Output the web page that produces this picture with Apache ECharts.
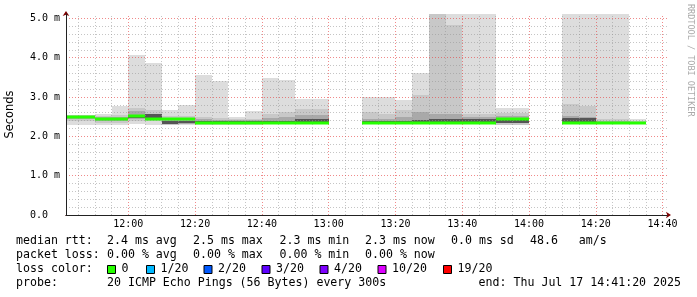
<!DOCTYPE html>
<html><head><meta charset="utf-8">
<script src="https://cdn.jsdelivr.net/npm/echarts@6/dist/echarts.min.js"></script>
<style>html,body{margin:0;padding:0;background:#fff}#c{width:697px;height:297px}</style>
</head><body><div id="c"></div>
<script>
// time in minutes since midnight
const startMin = 701 + 20/60;   // 11:41:20
const endMin   = 881 + 20/60;   // 14:41:20
const stepMin  = 5;
// end time of each 5-minute interval
const intervalEnds = [705,710,715,720,725,730,735,740,745,750,755,760,765,770,775,780,785,790,
  795,800,805,810,815,820,825,830,835,840,845,850,855,860,865,870,875];
// smoke bands (ms)
const lo   = [2.29,2.29,2.28,2.28,2.31,2.30,2.28,2.30,2.30,2.30,2.30,2.30,2.31,2.31,2.31,2.31,null,null,2.33,2.33,2.33,2.33,2.33,2.33,2.32,2.32,2.28,2.28,null,null,2.33,2.33,2.31,2.31,2.31];
const hi   = [2.54,2.54,2.58,2.77,4.06,3.86,2.66,2.79,3.55,3.40,2.48,2.64,3.49,3.43,2.96,2.96,null,null,2.99,2.99,2.92,3.60,5.60,5.60,5.60,5.60,2.73,2.73,null,null,5.60,5.60,5.60,5.60,2.45];
const b2lo = [2.40,2.40,2.33,2.33,2.40,2.38,2.30,2.31,2.32,2.32,2.31,2.31,2.32,2.32,2.32,2.32,null,null,2.34,2.34,2.34,2.34,2.34,2.34,2.33,2.33,2.30,2.30,null,null,2.34,2.34,2.32,2.32,2.32];
const b2hi = [2.53,2.53,2.52,2.55,2.72,2.68,2.52,2.52,2.48,2.47,2.45,2.45,2.56,2.62,2.70,2.70,null,null,2.61,2.56,2.66,3.05,5.60,4.82,2.56,2.56,2.60,2.60,null,null,2.82,2.77,2.44,2.44,2.40];
const b3lo = [2.44,2.44,2.40,2.40,2.45,2.43,2.31,2.32,2.33,2.33,2.32,2.32,2.33,2.33,2.34,2.34,null,null,2.35,2.35,2.35,2.35,2.35,2.35,2.34,2.34,2.33,2.33,null,null,2.35,2.35,2.33,2.33,2.32];
const b3hi = [2.51,2.51,2.49,2.50,2.65,2.58,2.46,2.47,2.44,2.42,2.42,2.41,2.46,2.48,2.55,2.55,null,null,2.45,2.45,2.50,2.62,2.56,2.56,2.50,2.50,2.52,2.52,null,null,2.52,2.50,2.40,2.40,2.37];
const b4lo = [2.46,2.46,2.43,2.43,2.47,2.46,2.31,2.33,2.34,2.34,2.33,2.33,2.34,2.34,2.36,2.36,null,null,2.35,2.35,2.36,2.36,2.37,2.37,2.35,2.35,2.33,2.33,null,null,2.36,2.36,2.33,2.33,2.33];
const b4hi = [2.49,2.49,2.47,2.47,2.55,2.56,2.40,2.39,2.38,2.38,2.39,2.38,2.38,2.38,2.44,2.44,null,null,2.38,2.38,2.40,2.42,2.45,2.45,2.44,2.44,2.46,2.46,null,null,2.46,2.46,2.37,2.37,2.36];
const median = [2.48,2.48,2.45,2.45,2.51,2.44,2.44,2.43,2.34,2.34,2.33,2.33,2.34,2.34,2.34,2.34,null,null,2.35,2.35,2.35,2.35,2.35,2.35,2.34,2.34,2.43,2.43,null,null,2.34,2.34,2.34,2.34,2.33];

// grid / ticks
const majorX = [720,740,760,780,800,820,840,860,880];
const minorX = [705,710,715,725,730,735,745,750,755,765,770,775,785,790,795,805,810,815,825,830,835,845,850,855,865,870,875];
const majorY = [1,2,3,4,5];
const minorY = [0.2,0.4,0.6,0.8,1.2,1.4,1.6,1.8,2.2,2.4,2.6,2.8,3.2,3.4,3.6,3.8,4.2,4.4,4.6,4.8];
const yLabels = [0,1,2,3,4,5];

// legend texts
const statRows = [
  [[16,'median rtt:'],[107,'2.4 ms avg'],[193,'2.5 ms max'],[279.5,'2.3 ms min'],[365,'2.3 ms now'],[451,'0.0 ms sd'],[530,'48.6   am/s']],
  [[16,'packet loss:'],[107,'0.00 % avg'],[193,'0.00 % max'],[279.5,'0.00 % min'],[365,'0.00 % now']]
];
const lossLabels = ['0','1/20','2/20','3/20','4/20','10/20','19/20'];
const lossColors = ['#26ff00','#00b8ff','#0059ff','#5e00ff','#7e00ff','#dd00ff','#ff0000'];
const lossBoxX   = [107,146,203.5,261.5,319.5,377.5,443];
const probeText = '20 ICMP Echo Pings (56 Bytes) every 300s';
const endText = 'end: Thu Jul 17 14:41:20 2025';

const MONO = '"DejaVu Sans Mono", monospace';

function bandData(a, b) {
  const out = [];
  intervalEnds.forEach((t, i) => {
    if (a[i] != null && b[i] != null) out.push([t - stepMin, t, a[i], b[i]]);
  });
  return out;
}
function rectItem(params, api, color) {
  const p0 = api.coord([api.value(0), api.value(3)]);
  const p1 = api.coord([api.value(1), api.value(2)]);
  const x0 = Math.round(p0[0]), x1 = Math.round(p1[0]);
  const y0 = Math.round(p0[1]), y1 = Math.round(p1[1]);
  return {type:'rect', shape:{x:x0, y:y0, width:x1-x0, height:Math.max(1,y1-y0)}, style:{fill:color}};
}
function bandSeries(a, b, color, extra) {
  return Object.assign({
    type:'custom', clip:true, silent:true, animation:false,
    renderItem:(p, api) => rectItem(p, api, color),
    encode:{x:[0,1], y:[2,3]},
    data: bandData(a, b)
  }, extra || {});
}
const medData = [];
intervalEnds.forEach((t, i) => { if (median[i] != null) medData.push([t - stepMin, t, median[i]]); });

const gridLines = [];
minorX.forEach(v => gridLines.push({xAxis:v, lineStyle:{color:'rgba(150,150,150,0.55)', type:[1,2], width:1}}));
minorY.forEach(v => gridLines.push({yAxis:v, lineStyle:{color:'rgba(150,150,150,0.55)', type:[1,2], width:1}}));
majorX.forEach(v => gridLines.push({xAxis:v, lineStyle:{color:'rgba(230,60,60,0.6)', type:[1,2], width:1}}));
majorY.forEach(v => gridLines.push({yAxis:v, lineStyle:{color:'rgba(230,60,60,0.6)', type:[1,2], width:1}}));

function pad2(n){ return (n<10?'0':'')+n; }

const graphic = [];
statRows.forEach((row, r) => {
  row.forEach(seg => graphic.push({type:'text', x:seg[0], y:241 + r*14, silent:true,
    style:{text:seg[1], font:'11.6px ' + MONO, fill:'#000', align:'left', verticalAlign:'middle'}}));
});
graphic.push({type:'text', x:16, y:269, style:{text:'loss color:', font:'11.6px ' + MONO, fill:'#000', verticalAlign:'middle'}});
lossLabels.forEach((l, i) => {
  graphic.push({type:'rect', shape:{x:lossBoxX[i]+0.5, y:265.5, width:8, height:8},
    style:{fill:lossColors[i], stroke:'#000', lineWidth:1}});
  graphic.push({type:'text', x:lossBoxX[i]+14.5, y:269, style:{text:l, font:'11.6px ' + MONO, fill:'#000', verticalAlign:'middle'}});
});
graphic.push({type:'text', x:16, y:283, style:{text:'probe:', font:'11.6px ' + MONO, fill:'#000', verticalAlign:'middle'}});
graphic.push({type:'text', x:107, y:283, style:{text:probeText, font:'11.6px ' + MONO, fill:'#000', verticalAlign:'middle'}});
graphic.push({type:'text', x:681, y:283, style:{text:endText, font:'11.6px ' + MONO, fill:'#000', align:'right', verticalAlign:'middle'}});
graphic.push({type:'text', x:690, y:4, rotation:-Math.PI/2,
  style:{text:'RRDTOOL / TOBI OETIKER', font:'8.5px ' + MONO, fill:'#aaaaaa', align:'left', verticalAlign:'middle'}});

const chart = echarts.init(document.getElementById('c'), null, {renderer:'canvas'});
chart.setOption({
  animation:false,
  backgroundColor:'#fff',
  grid:{left:66, right:30, top:14, bottom:82, containLabel:false, outerBoundsMode:'none'},
  xAxis:[{
    type:'value', position:'bottom', min:startMin, max:endMin, z:8,
    axisLine:{show:true, onZero:false, lineStyle:{color:'#222', width:1}},
    axisTick:{show:false}, splitLine:{show:false},
    axisLabel:{customValues:majorX, margin:4, fontFamily:MONO, fontSize:10, color:'#000',
      formatter:v => pad2(Math.floor(v/60)) + ':' + pad2(Math.round(v%60))}
  },{
    type:'value', position:'bottom', offset:0, min:startMin, max:endMin, z:7,
    axisLine:{show:true, onZero:false, symbol:['none','arrow'], symbolSize:[5,5], symbolOffset:[0,4], lineStyle:{color:'#7f0000'}},
    axisTick:{show:false}, axisLabel:{show:false}, splitLine:{show:false}
  }],
  yAxis:[{
    type:'value', position:'left', min:0, max:5.11, interval:1, z:8,
    name:'Seconds', nameLocation:'middle', nameRotate:90, nameGap:50,
    nameTextStyle:{fontFamily:'"DejaVu Sans", sans-serif', fontSize:11.4, color:'#000'},
    axisLine:{show:true, onZero:false, lineStyle:{color:'#222', width:1}},
    axisTick:{show:false}, splitLine:{show:false},
    axisLabel:{customValues:yLabels, align:'left', margin:36, fontFamily:MONO, fontSize:10, color:'#000',
      formatter:v => v === 0 ? '0.0' : v.toFixed(1) + ' m'}
  },{
    type:'value', position:'left', offset:0, min:0, max:5.11, z:7,
    axisLine:{show:true, onZero:false, symbol:['none','arrow'], symbolSize:[5,5], symbolOffset:[0,3], lineStyle:{color:'#7f0000'}},
    axisTick:{show:false}, axisLabel:{show:false}, splitLine:{show:false}
  }],
  series:[
    bandSeries(lo, hi, '#dddddd'),
    bandSeries(b2lo, b2hi, '#c8c8c8'),
    bandSeries(b3lo, b3hi, '#a9a9a9'),
    bandSeries(b4lo, b4hi, '#555555', {
      markLine:{silent:true, symbol:'none', animation:false, label:{show:false}, z:5, data:gridLines}
    }),
    {
      type:'custom', clip:true, silent:true, z:6, animation:false,
      encode:{x:[0,1], y:2},
      renderItem:(p, api) => {
        const a = api.coord([api.value(0), api.value(2)]);
        const b = api.coord([api.value(1), api.value(2)]);
        const x0 = Math.round(a[0]), x1 = Math.round(b[0]);
        const yc = Math.round(a[1]);
        return {type:'rect', shape:{x:x0, y:yc-1.5, width:x1-x0, height:3}, style:{fill:lossColors[0]}};
      },
      data: medData
    }
  ],
  graphic: graphic
});
</script></body></html>
